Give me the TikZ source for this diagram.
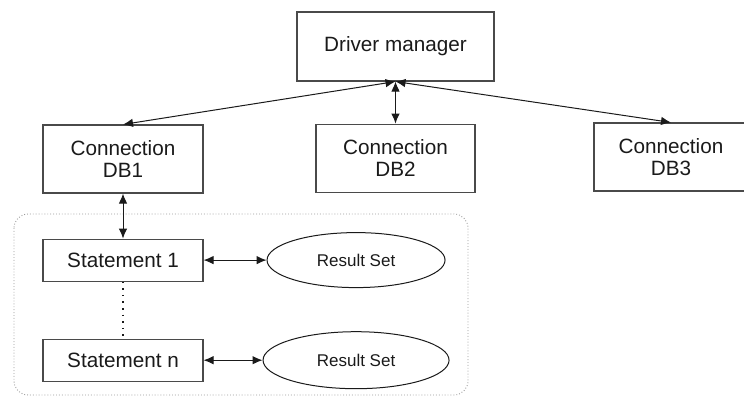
\documentclass[tikz,border=0pt]{standalone}
\usepackage{fontspec}
\setmainfont{Liberation Sans}
\usepackage{tikz}
\usetikzlibrary{arrows.meta,positioning,shapes.geometric}
\definecolor{ink}{HTML}{1A1A1A}
\definecolor{frame}{HTML}{4A4A4A}
\definecolor{dots}{HTML}{9A9A9A}
\tikzset{
  >={Latex[length=10pt,width=8.5pt]},
  every node/.style={font=\fontsize{20.7}{22}\selectfont,text=ink},
  box/.style={draw=frame,line width=1.1pt,align=center,inner sep=2pt,minimum height=68pt},
  stmt/.style={box,minimum width=160pt,minimum height=42pt},
  rset/.style={draw=ink,ellipse,line width=1pt,inner sep=0pt,font=\fontsize{17}{19}\selectfont},
  link/.style={<->,line width=1pt,draw=ink},
  group/.style={draw=dots,dotted,line width=0.9pt,rounded corners=14pt}
}
\begin{document}
\begin{tikzpicture}[x=1pt,y=-1pt]
  \useasboundingbox (0,0) rectangle (744,398);

  % manager and the three connections
  \node[box,minimum width=197pt,minimum height=69pt] (dm) at (395.5,46.5) {Driver manager};
  \node[box,minimum width=159pt,below=42pt of dm] (db2) {Connection\\DB2};
  \node[box,minimum width=160pt] (db1) at (123,159) {Connection\\DB1};
  \node[box,minimum width=154pt] (db3) at (671,157) {Connection\\DB3};

  \draw[link] (dm.south) -- (db1.north);
  \draw[link] (dm.south) -- (db2.north);
  \draw[link] (dm.south) -- (db3.north);

  % statements of the first connection
  \draw[group] (14,214) rectangle (468,395);
  \node[stmt,below=45pt of db1] (s1) {Statement 1};
  \node[stmt,below=57pt of s1] (sn) {Statement n};
  \node[rset,minimum width=178pt,minimum height=55pt,right=63pt of s1] (rs1) {Result Set};
  \node[rset,minimum width=186pt,minimum height=57pt,right=59pt of sn] (rsn) {Result Set};

  \draw[link] (db1.south) -- (s1.north);
  \draw[draw=ink,line width=1.6pt,dash pattern=on 1.6pt off 5pt] (s1.south) -- (sn.north);
  \draw[link] (s1.east) -- (rs1.west);
  \draw[link] (sn.east) -- (rsn.west);
\end{tikzpicture}
\end{document}
